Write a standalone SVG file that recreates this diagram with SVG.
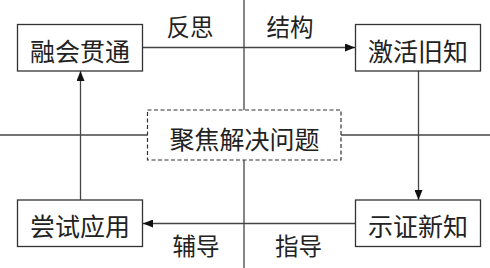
<svg xmlns="http://www.w3.org/2000/svg" width="490" height="268" viewBox="0 0 490 268">
<style>
.box{fill:#fff;stroke:#333;stroke-width:1.3}
.dash{fill:#fff;stroke:#333;stroke-width:1.2;stroke-dasharray:4 2.5}
.ln{stroke:#444;stroke-width:1.3;fill:none}
.t{font-family:"Noto Sans CJK SC",sans-serif;font-size:25px;fill:#222;text-anchor:middle;dominant-baseline:central}
.l{font-family:"Noto Sans CJK SC",sans-serif;font-size:23.5px;fill:#222;text-anchor:middle;dominant-baseline:central}
</style>
<defs>
<marker id="ah" viewBox="0 0 10 8" refX="10" refY="4" markerWidth="10" markerHeight="8" markerUnits="userSpaceOnUse" orient="auto">
<path d="M0,0 L10,4 L0,8 Z" fill="#111"/>
</marker>
</defs>
<rect width="490" height="268" fill="#fff"/>
<g id="connectors">
<line class="ln" x1="244" y1="0" x2="244" y2="110"/>
<line class="ln" x1="244" y1="160" x2="244" y2="268"/>
<line class="ln" x1="0" y1="135" x2="147.5" y2="135"/>
<line class="ln" x1="341" y1="135" x2="490" y2="135"/>
<line class="ln" x1="142.5" y1="47.5" x2="355" y2="47.5" marker-end="url(#ah)"/>
<line class="ln" x1="418.5" y1="71" x2="418.5" y2="200" marker-end="url(#ah)"/>
<line class="ln" x1="355.5" y1="223.5" x2="143" y2="223.5" marker-end="url(#ah)"/>
<line class="ln" x1="80.5" y1="200" x2="80.5" y2="71" marker-end="url(#ah)"/>
<text class="l" x="190" y="26">反思</text>
<text class="l" x="290" y="26">结构</text>
<text class="l" x="196" y="245">辅导</text>
<text class="l" x="298.5" y="245">指导</text>
</g>
<g id="node-ronghui">
<rect class="box" x="17.5" y="24.5" width="125" height="46.5"/>
<text class="t" x="80" y="50">融会贯通</text>
</g>
<g id="node-jihuo">
<rect class="box" x="355.5" y="24.5" width="125" height="46.5"/>
<text class="t" x="418" y="50">激活旧知</text>
</g>
<g id="node-center">
<rect class="dash" x="147.5" y="110" width="193.5" height="50"/>
<text class="t" x="244.5" y="137.5">聚焦解决问题</text>
</g>
<g id="node-shizheng">
<rect class="box" x="355.5" y="200" width="125" height="46.5"/>
<text class="t" x="418" y="224.5">示证新知</text>
</g>
<g id="node-changshi">
<rect class="box" x="17.5" y="200" width="125" height="46.5"/>
<text class="t" x="80" y="224.5">尝试应用</text>
</g>
</svg>
